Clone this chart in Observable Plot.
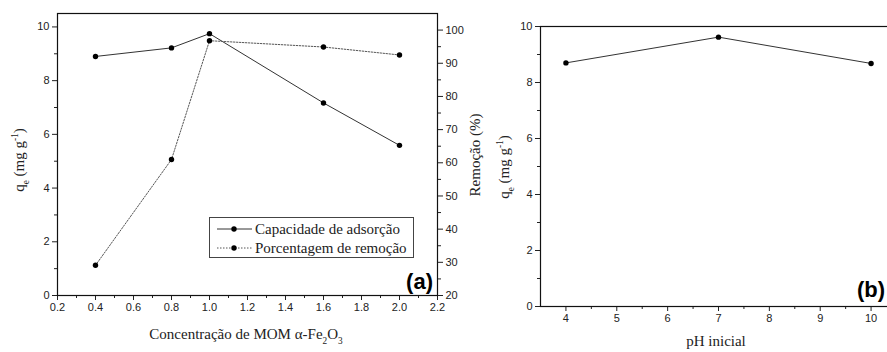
<!DOCTYPE html>
<html><head><meta charset="utf-8">
<script src="https://cdn.jsdelivr.net/npm/d3@7"></script>
<script src="https://cdn.jsdelivr.net/npm/@observablehq/plot@0.6"></script>
<style>
body{margin:0;background:#fff;}
#wrap{position:relative;width:887px;height:352px;overflow:hidden;background:#fff;}
#wrap svg{position:absolute;top:0;}
</style></head><body><div id="wrap"></div>
<script>
// ---- data ----
const conc = [0.4, 0.8, 1.0, 1.6, 2.0];
const capacidade = [8.9, 9.22, 9.75, 7.17, 5.59];
const remocao = [29.1, 61.0, 96.8, 94.9, 92.5];
const pH = [4, 7, 10];
const qePH = [8.7, 9.62, 8.68];

const xTicksA = [0.2, 0.4, 0.6, 0.8, 1.0, 1.2, 1.4, 1.6, 1.8, 2.0, 2.2];
const xMinorA = [0.3, 0.5, 0.7, 0.9, 1.1, 1.3, 1.5, 1.7, 1.9, 2.1];
const yTicksQ = [0, 2, 4, 6, 8, 10];
const yMinorQ = [1, 3, 5, 7, 9];
const yTicksR = [20, 30, 40, 50, 60, 70, 80, 90, 100];
const yMinorR = [25, 35, 45, 55, 65, 75, 85, 95];
const xTicksB = [4, 5, 6, 7, 8, 9, 10];
const xMinorB = [4.5, 5.5, 6.5, 7.5, 8.5, 9.5];

const legendLabels = ["Capacidade de adsorção", "Porcentagem de remoção"];

const wrap = document.getElementById("wrap");
const baseStyle = {background: "transparent", fontFamily: "Liberation Sans, Arial, sans-serif", fontSize: "11px", color: "#222", overflow: "visible"};

const A = conc.map((c, i) => ({x: c, q: capacidade[i], r: remocao[i]}));
const B = pH.map((p, i) => ({x: p, q: qePH[i]}));

const dimsA = {width: 460, height: 352, marginLeft: 57, marginRight: 23, marginTop: 13, marginBottom: 57};

const p1 = Plot.plot({
  ...dimsA, style: baseStyle,
  x: {domain: [0.2, 2.2]},
  y: {domain: [0, 10.5]},
  marks: [
    Plot.axisX({ticks: xTicksA, tickFormat: d => d.toFixed(1), tickSize: 5, tickPadding: 3, label: null, stroke: "#222"}),
    Plot.axisX({ticks: xMinorA, tickFormat: () => "", tickSize: 3, label: null, stroke: "#222"}),
    Plot.axisY({ticks: yTicksQ, tickSize: 5, tickPadding: 3, label: null, stroke: "#222"}),
    Plot.axisY({ticks: yMinorQ, tickFormat: () => "", tickSize: 3, label: null, stroke: "#222"}),
    Plot.frame({stroke: "#111", strokeWidth: 1.2}),
    Plot.line(A, {x: "x", y: "q", stroke: "#333", strokeWidth: 1}),
    Plot.dot(A, {x: "x", y: "q", r: 2.7, fill: "#000", stroke: "none"})
  ]
});
p1.style.left = "0px";
wrap.appendChild(p1);

const p2 = Plot.plot({
  ...dimsA, style: baseStyle,
  x: {domain: [0.2, 2.2], axis: null},
  y: {domain: [20, 105]},
  marks: [
    Plot.axisY({anchor: "right", ticks: yTicksR, tickSize: 5, tickPadding: 3, label: null, stroke: "#222"}),
    Plot.axisY({anchor: "right", ticks: yMinorR, tickFormat: () => "", tickSize: 3, label: null, stroke: "#222"}),
    Plot.line(A, {x: "x", y: "r", stroke: "#555", strokeWidth: 1, strokeDasharray: "1.5,1.5"}),
    Plot.dot(A, {x: "x", y: "r", r: 2.7, fill: "#000", stroke: "none"})
  ]
});
p2.style.left = "0px";
wrap.appendChild(p2);

const p3 = Plot.plot({
  width: 436, height: 352, marginLeft: 80, marginRight: 0, marginTop: 26, marginBottom: 46,
  style: baseStyle,
  x: {domain: [3.5, 10.5]},
  y: {domain: [0, 10]},
  marks: [
    Plot.axisX({ticks: xTicksB, tickFormat: d => String(d), tickSize: 5, tickPadding: 3, label: null, stroke: "#222"}),
    Plot.axisX({ticks: xMinorB, tickFormat: () => "", tickSize: 3, label: null, stroke: "#222"}),
    Plot.axisY({ticks: yTicksQ, tickSize: 5, tickPadding: 3, label: null, stroke: "#222"}),
    Plot.axisY({ticks: yMinorQ, tickFormat: () => "", tickSize: 3, label: null, stroke: "#222"}),
    Plot.frame({stroke: "#111", strokeWidth: 1.2}),
    Plot.line(B, {x: "x", y: "q", stroke: "#333", strokeWidth: 1}),
    Plot.dot(B, {x: "x", y: "q", r: 2.7, fill: "#000", stroke: "none"})
  ]
});
p3.style.left = "460px";
wrap.appendChild(p3);

// ---- overlay text ----
const ov = d3.select(wrap).append("svg").attr("width", 887).attr("height", 352)
  .style("left", "0px").style("overflow", "visible");
const serif = "Liberation Serif, Times New Roman, serif";

function rich(x, y, parts, size, rotate) {
  const t = ov.append("text")
    .attr("transform", `translate(${x},${y})` + (rotate ? ` rotate(${rotate})` : ""))
    .attr("text-anchor", "middle").attr("font-family", serif).attr("font-size", size).attr("fill", "#222");
  let shift = 0;
  parts.forEach(p => {
    const target = p.sub ? size * 0.3 : p.sup ? -size * 0.4 : 0;
    t.append("tspan").attr("dy", target - shift).attr("font-size", p.sub || p.sup ? size * 0.62 : size).text(p.t);
    shift = target;
  });
  return t;
}

const qeParts = [{t: "q"}, {t: "e", sub: true}, {t: " (mg g"}, {t: "-1", sup: true}, {t: ")"}];
rich(24, 160, qeParts, 15, -90);
rich(480, 155, [{t: "Remoção (%)"}], 15, -90);
rich(509, 167, qeParts, 15, -90);
rich(246, 339, [{t: "Concentração de MOM α-Fe"}, {t: "2", sub: true}, {t: "O"}, {t: "3", sub: true}], 15, 0);
rich(716, 346, [{t: "pH inicial"}], 15, 0);

// legend
const lg = ov.append("g");
lg.append("rect").attr("x", 209.5).attr("y", 217.5).attr("width", 204).attr("height", 40)
  .attr("fill", "#fff").attr("stroke", "#444").attr("stroke-width", 1);
const rows = [229, 248];
rows.forEach((yy, i) => {
  lg.append("line").attr("x1", 217).attr("x2", 252).attr("y1", yy).attr("y2", yy)
    .attr("stroke", i ? "#555" : "#333").attr("stroke-width", 1).attr("stroke-dasharray", i ? "1.5,1.5" : null);
  lg.append("circle").attr("cx", 234).attr("cy", yy).attr("r", 2.7).attr("fill", "#000");
  lg.append("text").attr("x", 255).attr("y", yy + 5).attr("font-family", serif).attr("font-size", 15)
    .attr("fill", "#222").text(legendLabels[i]);
});

// panel letters
ov.append("text").attr("x", 433).attr("y", 289).attr("text-anchor", "end")
  .attr("font-family", "Liberation Sans, Arial, sans-serif").attr("font-weight", "bold").attr("font-size", 22).attr("fill", "#000").text("(a)");
ov.append("text").attr("x", 885).attr("y", 297).attr("text-anchor", "end")
  .attr("font-family", "Liberation Sans, Arial, sans-serif").attr("font-weight", "bold").attr("font-size", 22).attr("fill", "#000").text("(b)");
</script></body></html>
